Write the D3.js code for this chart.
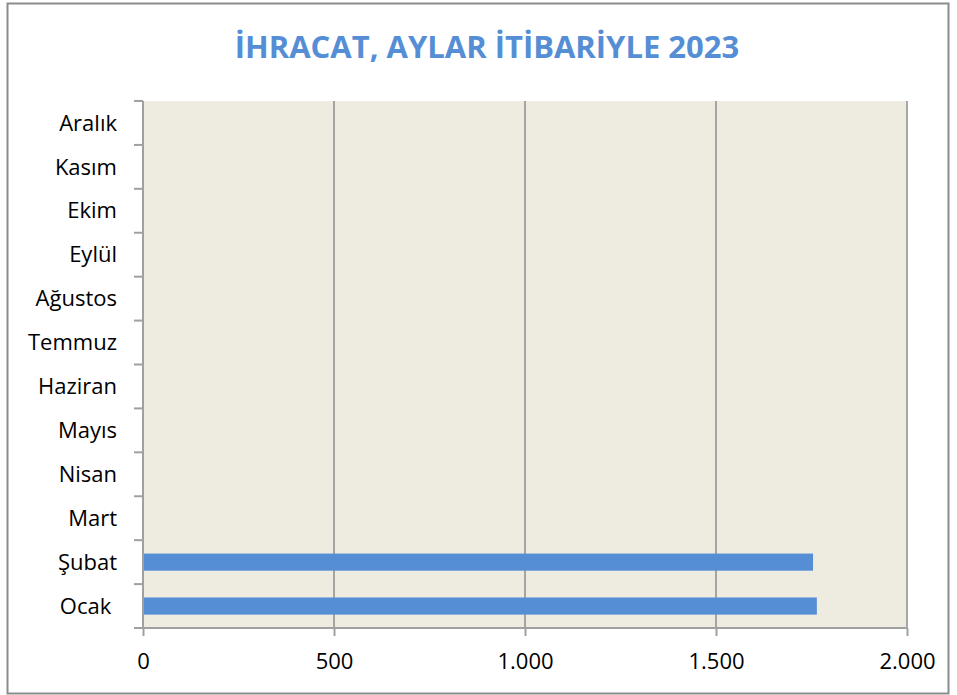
<!DOCTYPE html>
<html>
<head>
<meta charset="utf-8">
<script src="https://cdn.jsdelivr.net/npm/d3@7"></script>
<style>
  body { margin: 0; background: #fff; }
  svg text { font-family: "Open Sans", "Noto Sans", sans-serif; white-space: pre; }
</style>
</head>
<body>
<svg id="chart" width="957" height="695"></svg>
<script>
    // months bottom to top, as the chart shows them
    const months = ['Ocak ', 'Şubat', 'Mart', 'Nisan', 'Mayıs', 'Haziran',
        'Temmuz', 'Ağustos', 'Eylül', 'Ekim', 'Kasım', 'Aralık'];
    const exports = [1764, 1754, null, null, null, null, null, null, null, null, null, null];
    const xTicks = [0, 500, 1000, 1500, 2000];
    const title = 'İHRACAT, AYLAR İTİBARİYLE 2023';

    const svg = d3.select('#chart');
    const plot = { left: 143, right: 907, top: 101, bottom: 628 };

    // outer frame
    svg.append('rect')
        .attr('x', 7.5).attr('y', 3.5)
        .attr('width', 941).attr('height', 690)
        .attr('fill', '#fff')
        .attr('stroke', '#8c8c8c')
        .attr('stroke-width', 2);

    svg.append('text')
        .attr('x', 487).attr('y', 58)
        .attr('text-anchor', 'middle')
        .attr('font-size', 31)
        .attr('font-weight', 'bold')
        .attr('fill', '#558ed5')
        .text(title);

    const x = d3.scaleLinear().domain([0, 2000]).range([plot.left, plot.right]);
    const y = d3.scaleBand().domain(months).range([plot.bottom, plot.top]).paddingInner(0.61).paddingOuter(0.305);
    const yEdge = d3.scaleBand().domain(months).range([plot.bottom, plot.top]);

    svg.append('rect')
        .attr('x', plot.left).attr('y', plot.top)
        .attr('width', plot.right - plot.left).attr('height', plot.bottom - plot.top)
        .attr('fill', '#eeebe0');

    // vertical gridlines
    svg.append('g')
        .selectAll('line')
        .data(xTicks.slice(1))
        .join('line')
        .attr('x1', d => x(d)).attr('x2', d => x(d))
        .attr('y1', plot.top).attr('y2', plot.bottom)
        .attr('stroke', '#8c8c8c')
        .attr('stroke-width', 1.5);

    // bars
    svg.append('g')
        .selectAll('rect')
        .data(months.map((m, i) => ({ m, v: exports[i] })).filter(d => d.v != null))
        .join('rect')
        .attr('x', x(0))
        .attr('y', d => y(d.m))
        .attr('width', d => x(d.v) - x(0))
        .attr('height', y.bandwidth())
        .attr('fill', '#558ed5');

    const axisColor = '#a0a0a0';

    // y axis: ticks on category boundaries
    const yAxis = svg.append('g');
    yAxis.append('line')
        .attr('x1', plot.left).attr('x2', plot.left)
        .attr('y1', plot.top).attr('y2', plot.bottom)
        .attr('stroke', axisColor).attr('stroke-width', 2);
    yAxis.selectAll('line.tick')
        .data(months)
        .join('line')
        .attr('class', 'tick')
        .attr('x1', plot.left - 9).attr('x2', plot.left)
        .attr('y1', d => yEdge(d)).attr('y2', d => yEdge(d))
        .attr('stroke', axisColor).attr('stroke-width', 2);
    yAxis.selectAll('text')
        .data(months)
        .join('text')
        .attr('x', 117)
        .attr('y', d => yEdge(d) + yEdge.bandwidth() / 2)
        .attr('dy', '0.35em')
        .attr('text-anchor', 'end')
        .attr('font-size', 22)
        .attr('fill', '#000')
        .text(d => d);

    // x axis
    const xAxis = d3.axisBottom(x).tickValues(xTicks).tickSize(8).tickPadding(17)
        .tickFormat(d => d3.format(',')(d).replace(/,/g, '.'));
    const gx = svg.append('g')
        .attr('transform', `translate(0,${plot.bottom})`)
        .call(xAxis);
    gx.select('.domain').remove();
    gx.insert('line', ':first-child')
        .attr('x1', plot.left - 9).attr('x2', plot.right)
        .attr('stroke', axisColor).attr('stroke-width', 2);
    gx.selectAll('.tick line').attr('stroke', axisColor).attr('stroke-width', 2);
    gx.selectAll('.tick text').attr('font-size', 22).attr('fill', '#000')
        .attr('font-family', '"Open Sans", "Noto Sans", sans-serif');
</script>
</body>
</html>
